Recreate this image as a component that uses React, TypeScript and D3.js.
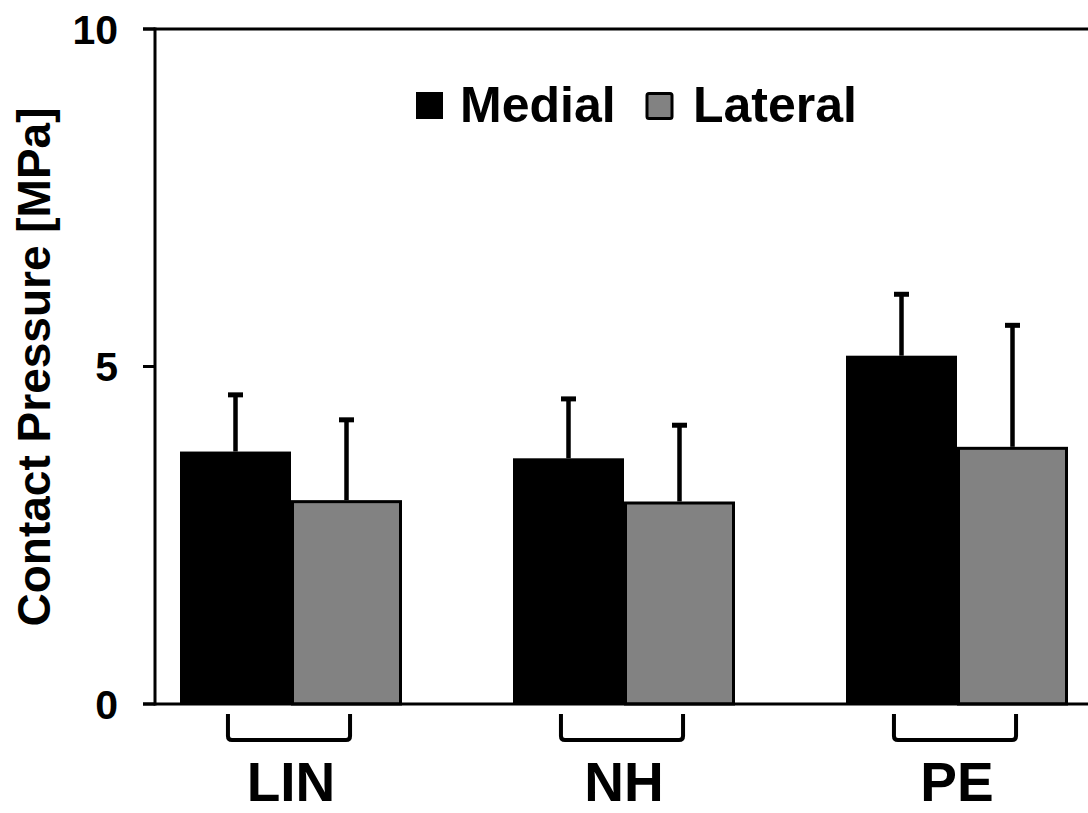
import * as d3 from "d3";

const categories = ["LIN", "NH", "PE"];
const seriesNames = ["Medial", "Lateral"];
const medialMeans = [3.74, 3.64, 5.16];
const medialSD = [0.84, 0.88, 0.91];
const lateralMeans = [3.02, 3.0, 3.81];
const lateralSD = [1.19, 1.13, 1.8];
const yTicks = [0, 5, 10];

const W = 1088;
const H = 813;
const FONT = "'Liberation Sans', Arial, Helvetica, sans-serif";
const GRAY = "#828282";

export default function App() {
  const y = d3.scaleLinear().domain([0, 10]).range([704, 29]);
  const x = d3
    .scaleBand()
    .domain(categories)
    .range([124.5, 1123.5])
    .paddingInner(1 / 3)
    .paddingOuter(1 / 6);
  const sub = d3.scaleBand().domain(seriesNames).range([0, x.bandwidth()]);
  const axisX = 155;

  const series = [
    { name: "Medial", means: medialMeans, sd: medialSD, fill: "#000", stroke: "none" },
    { name: "Lateral", means: lateralMeans, sd: lateralSD, fill: GRAY, stroke: "#000" },
  ];

  return (
    <svg
      width={W}
      height={H}
      style={{ position: "absolute", left: 0, top: 0, background: "#fff" }}
      fontFamily={FONT}
      fontWeight="bold"
    >
      {/* bars */}
      {series.map((s) =>
        categories.map((c, i) => {
          const x0 = (x(c) ?? 0) + (sub(s.name) ?? 0);
          const top = y(s.means[i]);
          const inset = s.stroke === "none" ? 0 : 1.5;
          return (
            <rect
              key={s.name + c}
              x={x0 + inset}
              y={top + inset}
              width={sub.bandwidth() - 2 * inset}
              height={y(0) - top - inset}
              fill={s.fill}
              stroke={s.stroke}
              strokeWidth={3}
            />
          );
        })
      )}
      {/* error bars */}
      {series.map((s) =>
        categories.map((c, i) => {
          const cx = (x(c) ?? 0) + (sub(s.name) ?? 0) + sub.bandwidth() / 2;
          const top = y(s.means[i] + s.sd[i]);
          return (
            <g key={"e" + s.name + c}>
              <line x1={cx} x2={cx} y1={y(s.means[i])} y2={top} stroke="#000" strokeWidth={4.5} />
              <rect x={cx - 7.5} y={top - 2.5} width={15} height={5} fill="#000" />
            </g>
          );
        })
      )}
      {/* frame */}
      <line x1={axisX} x2={axisX} y1={y(10) - 1.5} y2={y(0) + 1.5} stroke="#000" strokeWidth={3} />
      <line x1={143} x2={W} y1={y(0)} y2={y(0)} stroke="#000" strokeWidth={3} />
      <line x1={143} x2={W} y1={y(10)} y2={y(10)} stroke="#000" strokeWidth={3} />
      {yTicks.map((t) => (
        <g key={t}>
          <line x1={143} x2={axisX} y1={y(t)} y2={y(t)} stroke="#000" strokeWidth={3} />
          <text x={118} y={y(t)} dy="0.36em" textAnchor="end" fontSize={41}>
            {t}
          </text>
        </g>
      ))}
      {/* y label */}
      <text
        transform={`translate(50, ${367}) rotate(-90)`}
        textAnchor="middle"
        fontSize={46}
      >
        Contact Pressure [MPa]
      </text>
      {/* category brackets and labels */}
      {categories.map((c) => {
        const cx = (x(c) ?? 0) + x.bandwidth() / 2 - 2;
        const hw = x.bandwidth() * 0.275;
        const y0 = 714;
        const y1 = 740;
        const r = 4;
        const path = `M${cx - hw},${y0} V${y1 - r} Q${cx - hw},${y1} ${cx - hw + r},${y1} H${cx + hw - r} Q${cx + hw},${y1} ${cx + hw},${y1 - r} V${y0}`;
        return (
          <g key={"c" + c}>
            <path d={path} fill="none" stroke="#000" strokeWidth={4} />
            <text x={cx + 2} y={801} textAnchor="middle" fontSize={55}>
              {c}
            </text>
          </g>
        );
      })}
      {/* legend */}
      <rect x={416} y={92} width={27} height={27} fill="#000" />
      <text x={460} y={122} fontSize={50}>
        Medial
      </text>
      <rect x={647} y={93.5} width={25} height={25} rx={2} fill={GRAY} stroke="#000" strokeWidth={3} />
      <text x={693} y={122} fontSize={50}>
        Lateral
      </text>
    </svg>
  );
}
